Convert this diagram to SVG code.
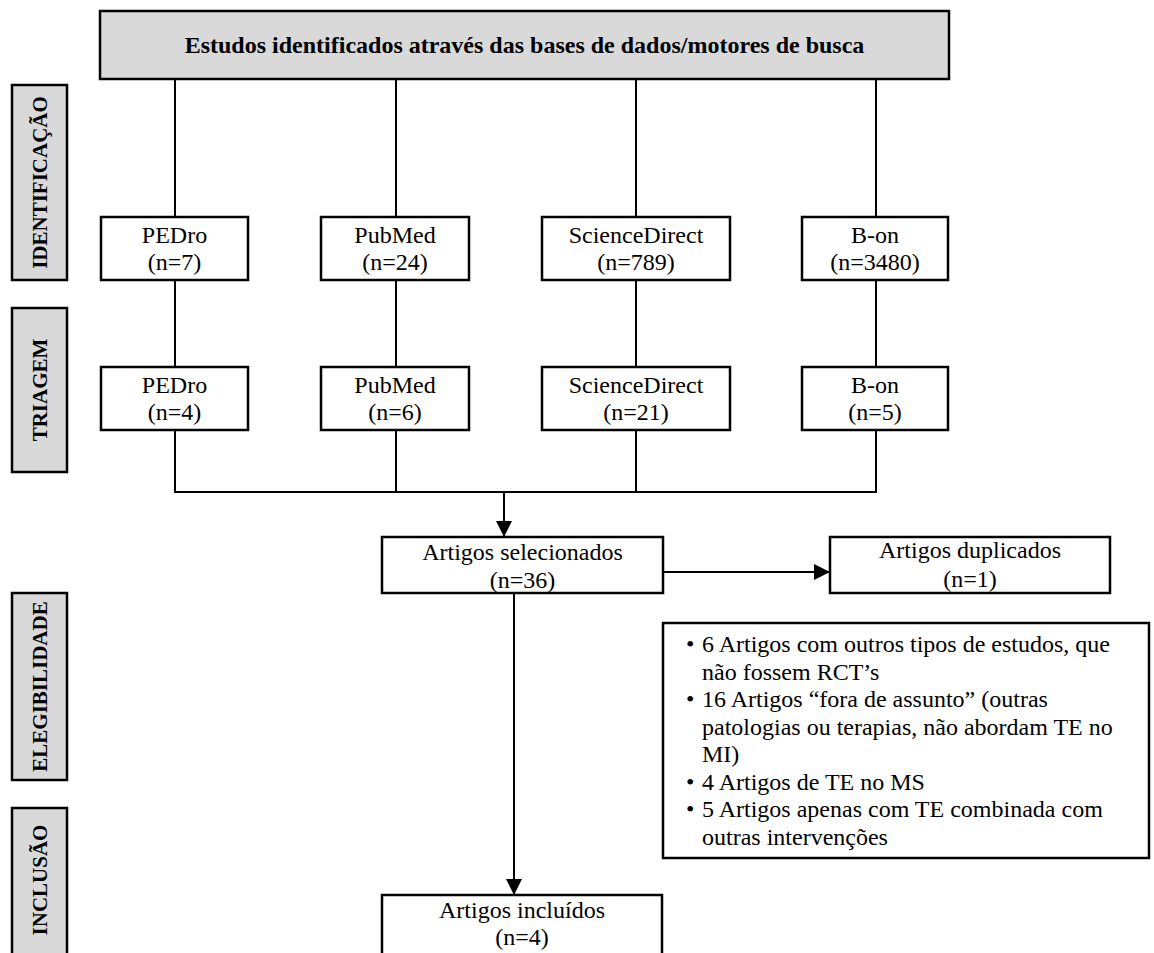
<svg xmlns="http://www.w3.org/2000/svg" width="1154" height="953" viewBox="0 0 1154 953">
<defs>
<marker id="arr" markerWidth="16" markerHeight="16" refX="15" refY="8" orient="auto" markerUnits="userSpaceOnUse">
<path d="M0,0 L16,8 L0,16 Z" fill="#000"/>
</marker>
<style>
.box{fill:#fff;stroke:#000;stroke-width:2.5}
.gbox{fill:#d9d9d9;stroke:#000;stroke-width:2.5}
.t{font-family:"Liberation Serif","Times New Roman",serif;font-size:24px;fill:#000}
.c{text-anchor:middle}
.b{font-weight:bold}
.lab{font-family:"Liberation Serif","Times New Roman",serif;font-size:21px;font-weight:bold;text-anchor:middle;fill:#000}
.ln{stroke:#000;stroke-width:2;fill:none}
</style>
</defs>
<rect width="1154" height="953" fill="#fff"/>

<g id="connectors">
<line class="ln" x1="175" y1="79" x2="175" y2="217"/>
<line class="ln" x1="396" y1="79" x2="396" y2="217"/>
<line class="ln" x1="636" y1="79" x2="636" y2="217"/>
<line class="ln" x1="876" y1="79" x2="876" y2="217"/>
<line class="ln" x1="175" y1="280" x2="175" y2="367"/>
<line class="ln" x1="396" y1="280" x2="396" y2="367"/>
<line class="ln" x1="636" y1="280" x2="636" y2="367"/>
<line class="ln" x1="876" y1="280" x2="876" y2="367"/>
<line class="ln" x1="175" y1="430" x2="175" y2="492"/>
<line class="ln" x1="396" y1="430" x2="396" y2="492"/>
<line class="ln" x1="636" y1="430" x2="636" y2="492"/>
<line class="ln" x1="876" y1="430" x2="876" y2="492"/>
<line class="ln" x1="174" y1="492" x2="877" y2="492"/>
<line class="ln" x1="504" y1="492" x2="504" y2="536" marker-end="url(#arr)"/>
<line class="ln" x1="664" y1="572" x2="829" y2="572" marker-end="url(#arr)"/>
<line class="ln" x1="514" y1="593" x2="514" y2="894" marker-end="url(#arr)"/>
</g>

<g id="top">
<rect class="gbox" x="100" y="11" width="849" height="68"/>
<text class="t c b" x="524.5" y="53">Estudos identificados através das bases de dados/motores de busca</text>
</g>

<g id="lab-identificacao">
<rect class="gbox" x="12" y="85" width="55" height="195"/>
<text class="lab" transform="translate(47,182.5) rotate(-90)">IDENTIFICAÇÃO</text>
</g>
<g id="lab-triagem">
<rect class="gbox" x="12" y="308" width="55" height="164"/>
<text class="lab" transform="translate(47,390) rotate(-90)">TRIAGEM</text>
</g>
<g id="lab-elegibilidade">
<rect class="gbox" x="12" y="593" width="55" height="187"/>
<text class="lab" transform="translate(47,686.5) rotate(-90)">ELEGIBILIDADE</text>
</g>
<g id="lab-inclusao">
<rect class="gbox" x="12" y="808" width="55" height="160"/>
<text class="lab" transform="translate(47,880) rotate(-90)">INCLUSÃO</text>
</g>

<g id="pedro1"><rect class="box" x="101" y="217" width="147" height="63"/>
<text class="t c" x="174.5" y="243">PEDro</text><text class="t c" x="174.5" y="270">(n=7)</text></g>
<g id="pubmed1"><rect class="box" x="321" y="217" width="148" height="63"/>
<text class="t c" x="395" y="243">PubMed</text><text class="t c" x="395" y="270">(n=24)</text></g>
<g id="sd1"><rect class="box" x="542" y="217" width="188" height="63"/>
<text class="t c" x="636" y="243">ScienceDirect</text><text class="t c" x="636" y="270">(n=789)</text></g>
<g id="bon1"><rect class="box" x="802" y="217" width="146" height="63"/>
<text class="t c" x="875" y="243">B-on</text><text class="t c" x="875" y="270">(n=3480)</text></g>

<g id="pedro2"><rect class="box" x="101" y="367" width="147" height="63"/>
<text class="t c" x="174.5" y="393">PEDro</text><text class="t c" x="174.5" y="420">(n=4)</text></g>
<g id="pubmed2"><rect class="box" x="321" y="367" width="148" height="63"/>
<text class="t c" x="395" y="393">PubMed</text><text class="t c" x="395" y="420">(n=6)</text></g>
<g id="sd2"><rect class="box" x="542" y="367" width="188" height="63"/>
<text class="t c" x="636" y="393">ScienceDirect</text><text class="t c" x="636" y="420">(n=21)</text></g>
<g id="bon2"><rect class="box" x="802" y="367" width="146" height="63"/>
<text class="t c" x="875" y="393">B-on</text><text class="t c" x="875" y="420">(n=5)</text></g>

<g id="selecionados"><rect class="box" x="382" y="537" width="281" height="56"/>
<text class="t c" x="522.5" y="560">Artigos selecionados</text><text class="t c" x="522.5" y="588">(n=36)</text></g>

<g id="duplicados"><rect class="box" x="830" y="537" width="280" height="56"/>
<text class="t c" x="970" y="558">Artigos duplicados</text><text class="t c" x="970" y="587">(n=1)</text></g>

<g id="exclusao"><rect class="box" x="663" y="623" width="486" height="235"/>
<g class="t">
<text x="686" y="652">•</text><text x="702" y="652">6 Artigos com outros tipos de estudos, que</text>
<text x="702" y="679.5">não fossem RCT’s</text>
<text x="686" y="707">•</text><text x="702" y="707">16 Artigos “fora de assunto” (outras</text>
<text x="702" y="734.5">patologias ou terapias, não abordam TE no</text>
<text x="702" y="762">MI)</text>
<text x="686" y="789.5">•</text><text x="702" y="789.5">4 Artigos de TE no MS</text>
<text x="686" y="817">•</text><text x="702" y="817">5 Artigos apenas com TE combinada com</text>
<text x="702" y="844.5">outras intervenções</text>
</g></g>

<g id="incluidos"><rect class="box" x="382" y="895" width="280" height="70"/>
<text class="t c" x="522" y="918">Artigos incluídos</text><text class="t c" x="522" y="945">(n=4)</text></g>
</svg>
